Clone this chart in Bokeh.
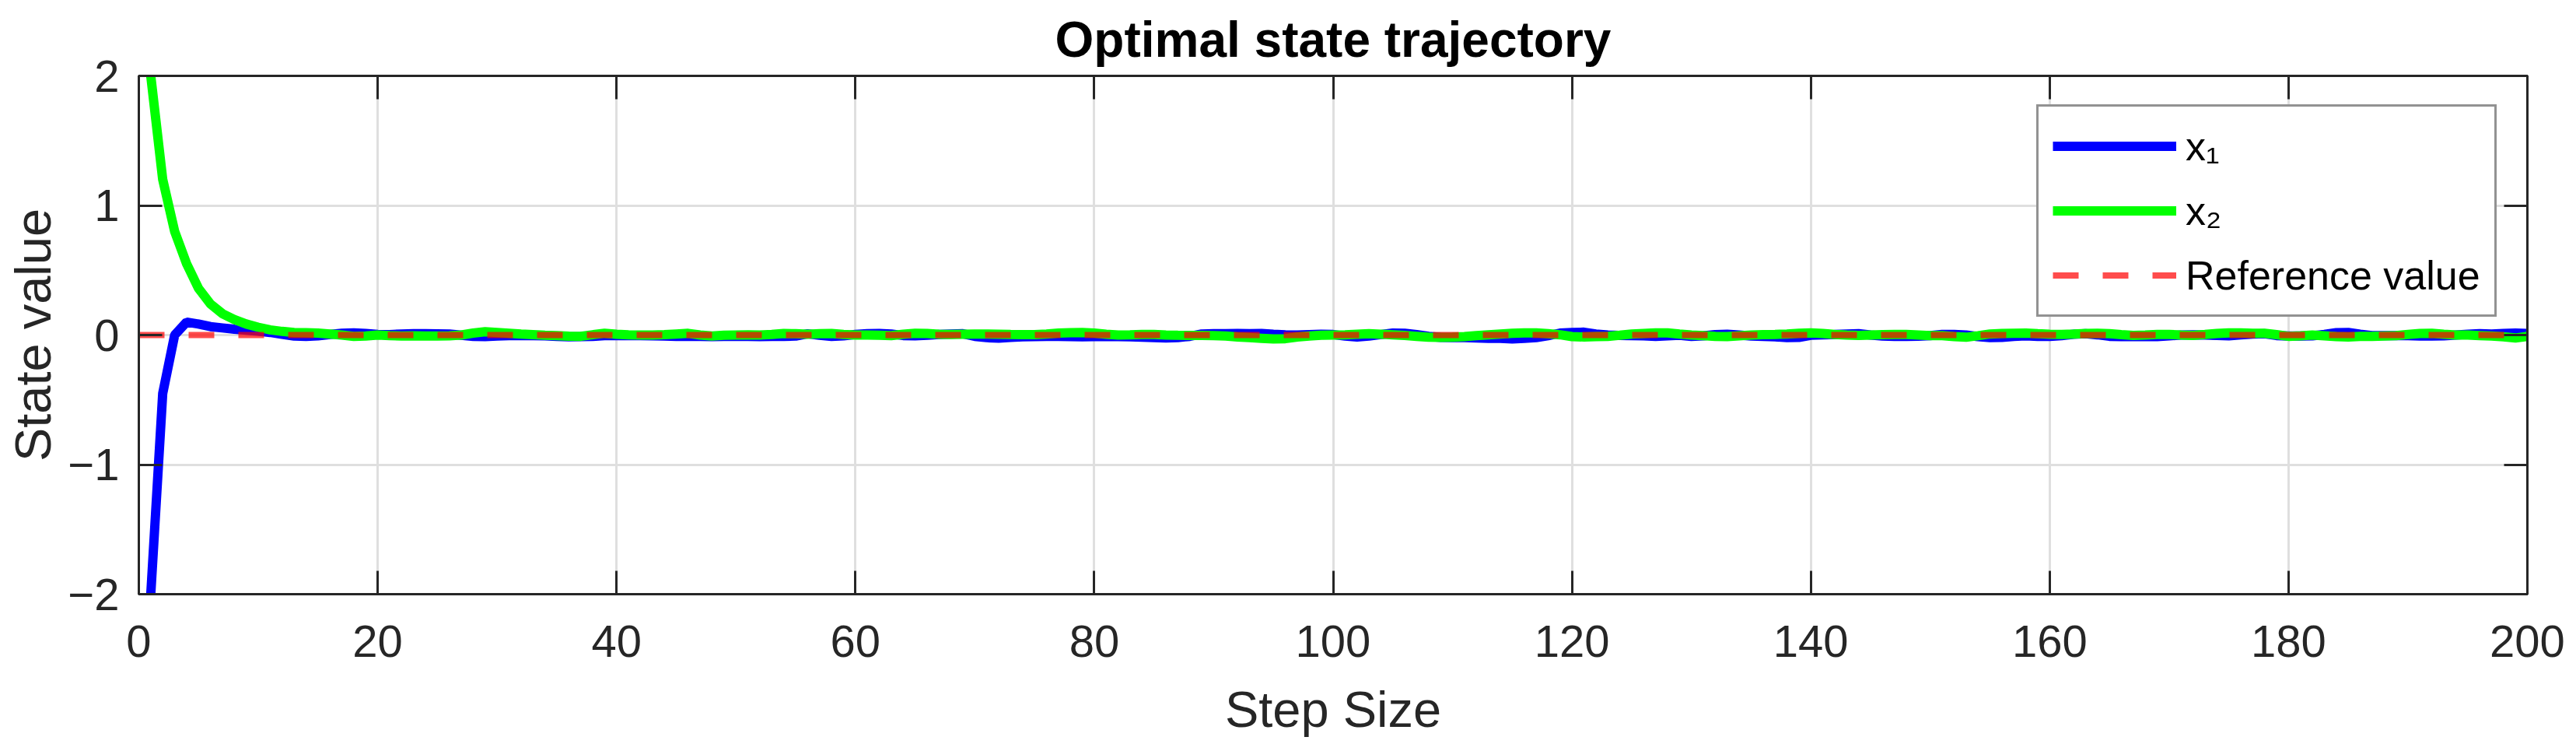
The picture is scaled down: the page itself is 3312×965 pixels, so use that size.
from bokeh.plotting import figure
from bokeh.models import Range1d, LinearAxis, Legend, LegendItem, FixedTicker
from bokeh.embed import file_html
from bokeh.resources import INLINE

# ---------------- data ----------------
steps = list(range(1, 201))

x1_values = [
    -2.0, -0.45, 0.0, 0.1, 0.085, 0.065, 0.055, 0.045, 0.038, 0.03,
    0.02, 0.005, -0.008, -0.01, -0.006, 0.005, 0.014, 0.017, 0.012, 0.005,
    0.003, 0.008, 0.01, 0.01, 0.009, 0.008, -0.002, -0.01, -0.012, -0.008,
    -0.004, -0.003, -0.005, -0.006, -0.01, -0.013, -0.012, -0.01, -0.004, -0.003,
    -0.004, -0.005, -0.006, -0.008, -0.01, -0.009, -0.01, -0.012, -0.011, -0.01,
    -0.011, -0.012, -0.011, -0.01, -0.008, 0.01, -0.002, -0.01, -0.006, 0.004,
    0.01, 0.012, 0.008, -0.004, -0.006, -0.002, 0.004, 0.008, 0.01, -0.01,
    -0.02, -0.024, -0.018, -0.014, -0.012, -0.01, -0.01, -0.012, -0.013, -0.012,
    -0.012, -0.012, -0.014, -0.016, -0.02, -0.022, -0.02, -0.01, 0.008, 0.01,
    0.011, 0.012, 0.011, 0.012, 0.006, 0.002, 0.0, 0.003, 0.006, 0.004,
    -0.008, -0.015, -0.008, 0.004, 0.015, 0.013, 0.003, -0.01, -0.018, -0.02,
    -0.019, -0.022, -0.025, -0.026, -0.03, -0.026, -0.02, -0.005, 0.015, 0.02,
    0.022, 0.008, 0.0, -0.003, -0.005, -0.006, -0.01, -0.006, -0.002, -0.01,
    -0.006, 0.003, 0.006, 0.0, -0.008, -0.01, -0.014, -0.02, -0.018, -0.002,
    0.002, 0.004, 0.008, 0.01, 0.0, -0.008, -0.01, -0.01, -0.009, -0.005,
    0.004, 0.005, 0.0, -0.012, -0.02, -0.018, -0.01, -0.006, -0.01, -0.01,
    -0.004, 0.006, 0.01, 0.002, -0.01, -0.012, -0.012, -0.011, -0.012, -0.006,
    0.0, 0.002, 0.0, -0.003, -0.006, 0.002, 0.008, 0.01, -0.004, -0.008,
    -0.007, -0.006, 0.005, 0.018, 0.02, 0.006, -0.004, -0.005, -0.004, -0.005,
    -0.007, -0.008, -0.006, 0.0, 0.006, 0.01, 0.008, 0.012, 0.015, 0.012,
]

x2_values = [
    2.0, 1.2, 0.8, 0.55, 0.36, 0.24, 0.165, 0.12, 0.085, 0.06,
    0.04, 0.028, 0.02, 0.018, 0.015, 0.008, 0.0, -0.01, -0.008, 0.0,
    -0.004, -0.007, -0.006, -0.007, -0.008, -0.006, 0.0, 0.015, 0.026, 0.02,
    0.014, 0.007, 0.003, -0.002, -0.004, -0.009, -0.01, 0.002, 0.014, 0.006,
    0.002, 0.0, 0.0, 0.003, 0.008, 0.013, 0.0, -0.007, -0.002, 0.0,
    0.001, 0.0, 0.004, 0.012, 0.01, 0.006, 0.01, 0.012, 0.004, 0.0,
    0.0, -0.002, -0.005, 0.006, 0.014, 0.012, 0.006, 0.004, 0.006, 0.008,
    0.008, 0.006, 0.004, 0.003, 0.003, 0.008, 0.015, 0.018, 0.02, 0.015,
    0.006, 0.0, 0.002, 0.005, 0.004, 0.0, -0.002, -0.003, -0.003, -0.004,
    -0.008, -0.015, -0.02, -0.025, -0.03, -0.028, -0.015, -0.008, -0.002, 0.0,
    0.002, 0.006, 0.01, 0.006, 0.002, -0.003, -0.01, -0.017, -0.018, -0.017,
    -0.012, -0.004, 0.002, 0.008, 0.013, 0.016, 0.017, 0.01, 0.002, -0.012,
    -0.015, -0.012, -0.01, -0.002, 0.008, 0.012, 0.016, 0.017, 0.008, 0.0,
    -0.005, -0.01, -0.012, -0.006, 0.0, 0.003, 0.005, 0.008, 0.014, 0.017,
    0.012, 0.005, 0.0, -0.003, 0.0, 0.003, 0.005, 0.004, 0.0, -0.004,
    -0.005, -0.012, -0.017, -0.005, 0.008, 0.012, 0.014, 0.015, 0.01, 0.006,
    0.005, 0.008, 0.012, 0.013, 0.01, 0.003, -0.003, 0.0, 0.004, 0.005,
    0.0, -0.003, 0.004, 0.012, 0.017, 0.016, 0.014, 0.013, 0.003, -0.01,
    -0.006, 0.0, -0.006, -0.012, -0.015, -0.011, -0.01, -0.007, -0.005, 0.004,
    0.012, 0.013, 0.006, 0.0, 0.0, -0.004, -0.008, -0.014, -0.023, -0.01,
]

ref_steps = [0, 200]
ref_values = [0.0, 0.0]

x_ticks = [0, 20, 40, 60, 80, 100, 120, 140, 160, 180, 200]
y_ticks = [-2, -1, 0, 1, 2]

title_text = "Optimal state trajectory"
x_label = "Step Size"
y_label = "State value"
series_labels = ["x\u2081", "x\u2082", "Reference value"]

# ---------------- styling ----------------
FONT = "Liberation Sans"
AXIS_COLOR = "#262626"
GRID_COLOR = "#dfdfdf"

p = figure(
    width=3304, height=957,
    x_range=Range1d(0, 200), y_range=Range1d(-2, 2),
    output_backend="svg", toolbar_location=None,
    min_border_left=178, min_border_right=55,
    min_border_top=97, min_border_bottom=194,
    title=title_text,
)
p.background_fill_color = "white"
p.border_fill_color = "white"
p.outline_line_color = AXIS_COLOR
p.outline_line_width = 3

p.title.text_font = FONT
p.title.text_font_size = "64px"
p.title.text_font_style = "bold"
p.title.text_color = "black"
p.title.align = "center"
p.title.standoff = 22

xt = FixedTicker(ticks=x_ticks)
yt = FixedTicker(ticks=y_ticks)

for ax in p.xaxis + p.yaxis:
    ax.axis_line_color = AXIS_COLOR
    ax.axis_line_width = 3
    ax.major_tick_line_color = AXIS_COLOR
    ax.major_tick_line_width = 3
    ax.major_tick_in = 30
    ax.major_tick_out = 0
    ax.minor_tick_line_color = None
    ax.major_label_text_font = FONT
    ax.major_label_text_font_size = "58px"
    ax.major_label_text_color = AXIS_COLOR
    ax.axis_label_text_font = FONT
    ax.axis_label_text_font_size = "65px"
    ax.axis_label_text_font_style = "normal"
    ax.axis_label_text_color = AXIS_COLOR

p.xaxis.ticker = xt
p.yaxis.ticker = yt
p.xaxis.axis_label = x_label
p.yaxis.axis_label = y_label
p.xaxis.major_label_standoff = 40
p.yaxis.major_label_standoff = 25
p.xaxis.axis_label_standoff = 28
p.yaxis.axis_label_standoff = 5

# box axes (top / right) with inward ticks and no visible labels
top_axis = LinearAxis(ticker=FixedTicker(ticks=x_ticks))
right_axis = LinearAxis(ticker=FixedTicker(ticks=y_ticks))
for ax in (top_axis, right_axis):
    ax.axis_line_color = AXIS_COLOR
    ax.axis_line_width = 3
    ax.major_tick_line_color = AXIS_COLOR
    ax.major_tick_line_width = 3
    ax.major_tick_in = 30
    ax.major_tick_out = 0
    ax.minor_tick_line_color = None
    ax.major_label_text_font_size = "1px"
    ax.major_label_text_color = None
    ax.major_label_standoff = 0
p.add_layout(top_axis, "above")
p.add_layout(right_axis, "right")

p.xgrid.ticker = xt
p.ygrid.ticker = yt
p.xgrid.grid_line_color = GRID_COLOR
p.ygrid.grid_line_color = GRID_COLOR
p.xgrid.grid_line_width = 3
p.ygrid.grid_line_width = 3

r1 = p.line(steps, x1_values, line_color="#0000ff", line_width=12)
r2 = p.line(steps, x2_values, line_color="#00ff00", line_width=12)
r3 = p.line(ref_steps, ref_values, line_color="#ff0000", line_alpha=0.7,
            line_width=8, line_dash="33 31")

legend = Legend(
    items=[LegendItem(label=series_labels[0], renderers=[r1]),
           LegendItem(label=series_labels[1], renderers=[r2]),
           LegendItem(label=series_labels[2], renderers=[r3])],
    location=(2440, 356),
    glyph_width=159, glyph_height=65, label_height=65,
    label_standoff=12, spacing=18, padding=18, margin=0,
    label_text_font=FONT, label_text_font_size="52px", label_text_color="black",
    border_line_color=AXIS_COLOR, border_line_width=3,
    background_fill_color="white", background_fill_alpha=1.0,
)
p.add_layout(legend, "center")

open("out.html", "w").write(file_html(p, INLINE))
